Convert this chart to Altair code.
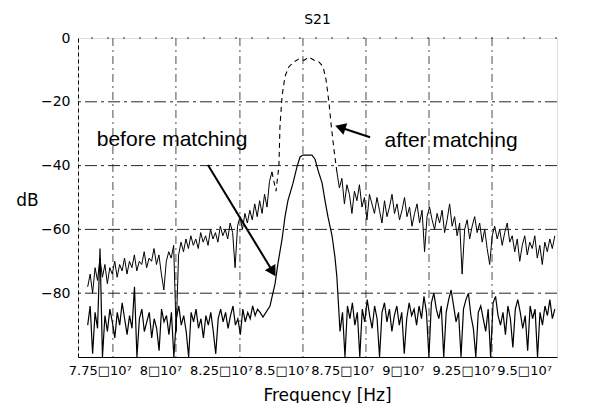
import altair as alt
import pandas as pd
import numpy as np

# ---------------- data (frequency in Hz, level in dB) ----------------
# "after matching" trace (upper)
after_left_range = (7.700e7, 8.460e7)
after_left_db = [-78, -74, -80, -72, -76, -69, -75, -71, -77, -72, -74, -70, -75, -71, -73, -69,
                 -74, -70, -72, -68, -73, -70, -71, -67, -72, -69, -70, -66, -71, -68, -74, -79,
                 -70, -67, -69, -65, -92, -68, -64, -67, -63, -66, -62, -65, -63, -66, -61, -64,
                 -62, -65, -60, -63, -61, -64, -59, -62, -60, -63, -58, -61, -72, -59, -56, -60,
                 -55, -58, -54, -57, -52, -56, -51, -55, -49, -53, -45, -42]
after_peak_f = [8.460e7, 8.477e7, 8.489e7, 8.493e7, 8.502e7, 8.514e7, 8.530e7, 8.551e7, 8.572e7,
                8.592e7, 8.613e7, 8.634e7, 8.654e7, 8.671e7, 8.683e7, 8.695e7, 8.704e7, 8.716e7,
                8.728e7]
after_peak_db = [-42, -48, -40, -28, -18, -12, -9, -7.5, -6.5, -7, -6, -7, -7.5, -9, -13, -20,
                 -27, -35, -42]
after_right_range = (8.728e7, 9.627e7)
after_right_db = [-42, -47, -44, -52, -46, -49, -55, -48, -51, -46, -53, -50, -57, -49, -52, -55,
                  -50, -54, -58, -51, -56, -53, -49, -55, -52, -57, -54, -50, -56, -53, -59, -55,
                  -52, -58, -54, -67, -56, -53, -57, -60, -55, -58, -54, -61, -57, -52, -59, -56,
                  -62, -58, -74, -60, -57, -63, -59, -56, -61, -58, -64, -60, -66, -71, -62, -59,
                  -63, -60, -65, -61, -58, -64, -62, -67, -63, -70, -65, -62, -68, -64, -66, -62,
                  -69, -65, -71, -64, -67, -63, -66, -62]

# "before matching" trace (lower)
before_left_range = (7.700e7, 8.411e7)
before_left_db = [-90, -84, -99, -86, -91, -66, -100, -87, -92, -85, -89, -94, -86, -90, -83, -88,
                  -93, -87, -91, -78, -100, -88, -85, -92, -89, -86, -94, -88, -91, -98, -85, -89,
                  -87, -93, -86, -100, -88, -84, -90, -87, -92, -100, -86, -89, -85, -91, -88, -94,
                  -87, -90, -86, -92, -99, -88, -85, -89, -86, -91, -87, -84, -90, -88, -93, -85,
                  -89, -86, -88, -84, -87, -85, -86]
before_peak_f = [8.423e7, 8.452e7, 8.464e7, 8.473e7, 8.485e7, 8.502e7, 8.514e7, 8.526e7, 8.547e7,
                 8.563e7, 8.576e7, 8.588e7, 8.625e7, 8.638e7, 8.650e7, 8.667e7, 8.679e7, 8.691e7,
                 8.708e7, 8.720e7, 8.728e7]
before_peak_db = [-87.5, -84, -80, -77, -70.6, -63, -56, -51, -45.5, -40.5, -37.3, -36.7, -36.7,
                  -38, -41.4, -45.5, -51, -56, -62, -68.7, -75]
before_right_range = (8.741e7, 9.627e7)
before_right_db = [-92, -86, -100, -84, -88, -83, -90, -86, -100, -85, -89, -82, -87, -91, -84, -88,
                   -100, -86, -83, -89, -85, -92, -87, -84, -90, -86, -99, -88, -83, -87, -85, -90,
                   -84, -88, -81, -86, -100, -83, -80, -85, -88, -84, -100, -86, -82, -79, -84, -89,
                   -86, -100, -85, -82, -80, -87, -91, -100, -86, -84, -88, -92, -85, -100, -83, -81,
                   -87, -90, -86, -93, -84, -88, -97, -85, -82, -86, -91, -87, -98, -84, -88, -85,
                   -100, -86, -90, -84, -87, -82, -88, -85]

# axes / grid
x_domain = [7.66e7, 9.636e7]
y_domain = [-100, 0]
tick_values = [7.75e7, 8.0e7, 8.25e7, 8.5e7, 8.75e7, 9.0e7, 9.25e7, 9.5e7]
tick_labels = ["7.75□10⁷", "8□10⁷", "8.25□10⁷", "8.5□10⁷", "8.75□10⁷", "9□10⁷", "9.25□10⁷", "9.5□10⁷"]
y_ticks = [0, -20, -40, -60, -80]
hgrid_db = [-20, -40, -60, -80]
vgrid_f = [7.804e7, 8.064e7, 8.328e7, 8.588e7, 8.848e7, 9.108e7, 9.368e7]

# annotations
ann_text = ["before matching", "after matching"]
ann_f = [8.048e7, 9.199e7]
ann_db = [-32.0, -32.3]
arrow_f = [8.196e7, 8.865e7]
arrow_db = [-39.8, -31.1]
arrow_f2 = [8.460e7, 8.749e7]
arrow_db2 = [-72.8, -28.2]
head_angle = [149, 288]

# ---------------- build tables ----------------
def sweep(rng, vals):
    return pd.DataFrame({"f": np.linspace(rng[0], rng[1], len(vals)), "db": vals})

after_noise = pd.concat([sweep(after_left_range, after_left_db).assign(seg="L"),
                         sweep(after_right_range, after_right_db).assign(seg="R")])
after_peak = pd.DataFrame({"f": after_peak_f, "db": after_peak_db})
before_all = pd.concat([sweep(before_left_range, before_left_db),
                        pd.DataFrame({"f": before_peak_f, "db": before_peak_db}),
                        sweep(before_right_range, before_right_db)]).sort_values("f")

expr = ""
for v, lab in zip(tick_values, tick_labels):
    expr += f"round(datum.value) == {int(v)} ? '{lab}' : "
expr += "''"

FONT = "DejaVu Sans"
xscale = alt.Scale(domain=x_domain, nice=False, zero=False)
yscale = alt.Scale(domain=y_domain, nice=False, zero=False)
xaxis = alt.Axis(values=tick_values, labelExpr=expr, grid=False, ticks=False, labelPadding=7,
                 labelFontSize=13, labelFont=FONT, labelColor="black", labelOverlap=False,
                 labelFlush=False, domainColor="black", domainWidth=1.2,
                 title="Frequency [Hz]", titleFont=FONT, titleFontSize=17, titleFontWeight="normal",
                 titleColor="black", titleX=249, titleY=38, titleBaseline="middle")
yaxis = alt.Axis(values=y_ticks, grid=False, ticks=False, labelPadding=8, labelFontSize=14,
                 labelFont=FONT, labelColor="black", domainColor="black", domainDash=[4, 3],
                 title="dB", titleAngle=0, titleX=-51, titleY=162, titleFont=FONT, titleFontSize=17,
                 titleFontWeight="normal", titleColor="black", titleAlign="center",
                 titleBaseline="middle")

X = alt.X("f:Q", scale=xscale, axis=xaxis)
Y = alt.Y("db:Q", scale=yscale, axis=yaxis)

hgrid = alt.Chart(pd.DataFrame({"db": hgrid_db})).mark_rule(
    color="black", strokeWidth=1, strokeDash=[12, 4, 3, 4], opacity=0.85).encode(y=Y)
zline = alt.Chart(pd.DataFrame({"db": [0]})).mark_rule(
    color="black", strokeWidth=1.2, strokeDash=[2, 14], opacity=0.8).encode(y=Y)
vgrid = alt.Chart(pd.DataFrame({"f": vgrid_f})).mark_rule(
    color="black", strokeWidth=1, strokeDash=[8, 4, 2, 4], opacity=0.7).encode(x=X)

after_line = alt.Chart(after_noise).mark_line(color="black", strokeWidth=1.0, clip=True).encode(
    x=X, y=Y, detail="seg:N")
after_peak_line = alt.Chart(after_peak).mark_line(
    color="black", strokeWidth=1.1, strokeDash=[5, 4], clip=True).encode(x=X, y=Y)
before_line = alt.Chart(before_all).mark_line(color="black", strokeWidth=1.2, clip=True).encode(
    x=X, y=Y, order="f:Q")

ann = pd.DataFrame({"f": ann_f, "db": ann_db, "t": ann_text})
texts = alt.Chart(ann).mark_text(font="Liberation Sans", fontSize=21, color="black",
                                 align="center", baseline="middle").encode(x=X, y=Y, text="t:N")
arr = pd.DataFrame({"f": arrow_f, "db": arrow_db, "f2": arrow_f2, "db2": arrow_db2,
                    "ang": head_angle})
arrows = alt.Chart(arr).mark_rule(color="black", strokeWidth=2).encode(
    x=X, y=Y, x2="f2:Q", y2="db2:Q")
heads = alt.Chart(arr).mark_point(shape="triangle", filled=True, color="black", size=150,
                                  opacity=1).encode(
    x=alt.X("f2:Q", scale=xscale, axis=xaxis), y=alt.Y("db2:Q", scale=yscale, axis=yaxis),
    angle=alt.Angle("ang:Q", scale=None))

chart = alt.layer(zline, hgrid, vgrid, after_line, after_peak_line, before_line,
                  arrows, heads, texts).properties(
    width=479, height=319,
    title=alt.TitleParams("S21", font=FONT, fontSize=14, fontWeight="normal", color="black",
                          offset=4, anchor="middle"),
    padding={"left": 70, "top": 30, "right": 30, "bottom": 46},
    autosize=alt.AutoSizeParams(type="none"),
).configure_view(stroke=None).configure(background="white")

chart.save("out.html", embed_options={"renderer": "svg", "actions": False})
